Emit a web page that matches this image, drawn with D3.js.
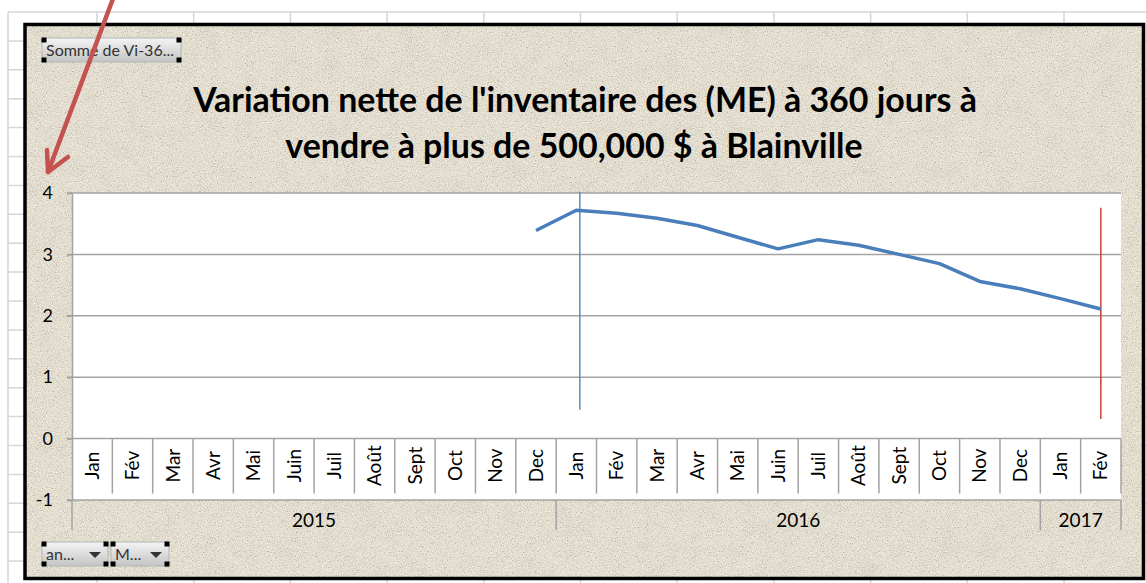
<!DOCTYPE html>
<html>
<head>
<meta charset="utf-8">
<script src="https://cdn.jsdelivr.net/npm/d3@7"></script>
<style>
  html, body { margin: 0; padding: 0; background: #fff; }
  svg { display: block; }
</style>
</head>
<body>
<div id="chart"></div>
<script>
// Data
const monthNames = ['Jan', 'Fév', 'Mar', 'Avr', 'Mai', 'Juin', 'Juil', 'Août', 'Sept', 'Oct', 'Nov', 'Dec'];
const years = ['2015', '2016', '2017'];
const monthsPerYear = [12, 12, 2];
const values = [
  null, null, null, null, null, null, null, null, null, null, null, 3.39,
  3.72, 3.67, 3.59, 3.47, 3.28, 3.09, 3.24, 3.15, 3.00, 2.85, 2.56, 2.44,
  2.28, 2.11
];
const yTicks = [-1, 0, 1, 2, 3, 4];
// vertical marker lines drawn on the chart (category, top value, bottom value)
const markerCats = ['2016-Jan', '2017-Fév'];
const markerTops = [4.02, 3.76];
const markerBottoms = [0.47, 0.32];
const titleLines = ["Variation nette de l'inventaire des (ME) à 360 jours à", 'vendre à plus de 500,000 $ à Blainville'];

const W = 1146, H = 583;
const plot = { left: 72, right: 1121, top: 193, bottom: 500 };
const font = 'Lato, "Open Sans", sans-serif';

// build categories
const categories = [];
years.forEach((yr, i) => {
  for (let m = 0; m < monthsPerYear[i]; m++) {
    categories.push({ key: yr + '-' + monthNames[m], year: yr, month: monthNames[m] });
  }
});
const points = categories.map((c, i) => ({ key: c.key, v: values[i] }));

const svg = d3.select('#chart').append('svg')
  .attr('width', W)
  .attr('height', H);

const defs = svg.append('defs');

// paper texture
const f = defs.append('filter').attr('id', 'paper')
  .attr('x', 0).attr('y', 0).attr('width', '100%').attr('height', '100%');
f.append('feTurbulence').attr('type', 'fractalNoise').attr('baseFrequency', 0.8)
  .attr('numOctaves', 2).attr('seed', 7).attr('result', 'n');
f.append('feColorMatrix').attr('in', 'n').attr('type', 'matrix')
  .attr('values', '0 0 0 0 0.45  0 0 0 0 0.42  0 0 0 0 0.36  -4 0 0 0 1.62')
  .attr('result', 'dark');
f.append('feColorMatrix').attr('in', 'n').attr('type', 'matrix')
  .attr('values', '0 0 0 0 0.97  0 0 0 0 0.96  0 0 0 0 0.92  2.4 0 0 0 -1.2')
  .attr('result', 'light');
f.append('feTurbulence').attr('type', 'fractalNoise').attr('baseFrequency', 0.05)
  .attr('numOctaves', 3).attr('seed', 2).attr('result', 'm');
f.append('feColorMatrix').attr('in', 'm').attr('type', 'matrix')
  .attr('values', '0 0 0 0 0.6  0 0 0 0 0.56  0 0 0 0 0.48  0.7 0 0 0 -0.3')
  .attr('result', 'mottle');
const fm = f.append('feMerge');
fm.append('feMergeNode').attr('in', 'mottle');
fm.append('feMergeNode').attr('in', 'light');
fm.append('feMergeNode').attr('in', 'dark');

const btnGrad = defs.append('linearGradient').attr('id', 'btn')
  .attr('x1', 0).attr('y1', 0).attr('x2', 0).attr('y2', 1);
btnGrad.append('stop').attr('offset', '0%').attr('stop-color', '#f4f4f4');
btnGrad.append('stop').attr('offset', '100%').attr('stop-color', '#c4c4c4');

// spreadsheet grid behind the chart
const sheet = svg.append('g');
for (let x = 8; x < W; x = (x === 8 ? 97 : x + 96.7)) {
  sheet.append('line').attr('x1', x).attr('x2', x).attr('y1', 12).attr('y2', H)
    .attr('stroke', '#d6d6d6').attr('stroke-width', 1.5);
}
for (let y = 12; y < H; y += 28.9) {
  sheet.append('line').attr('x1', 8).attr('x2', W).attr('y1', y).attr('y2', y)
    .attr('stroke', '#d6d6d6').attr('stroke-width', 1.5);
}

// chart area
svg.append('rect').attr('x', 25).attr('y', 24).attr('width', 1119).attr('height', 555)
  .attr('fill', '#e2dccd');
svg.append('rect').attr('x', 25).attr('y', 24).attr('width', 1119).attr('height', 555)
  .attr('filter', 'url(#paper)');

// scales
const x = d3.scaleBand()
  .domain(categories.map(c => c.key))
  .range([plot.left, plot.right])
  .paddingInner(0).paddingOuter(0);
const y = d3.scaleLinear().domain([-1, 4]).range([plot.bottom, plot.top]);
const cx = k => x(k) + x.bandwidth() / 2;

// plot area
svg.append('rect').attr('x', plot.left).attr('y', plot.top)
  .attr('width', plot.right - plot.left).attr('height', plot.bottom - plot.top)
  .attr('fill', '#fff');

// gridlines
svg.append('g').selectAll('line').data(yTicks).enter().append('line')
  .attr('x1', plot.left - 5).attr('x2', plot.right)
  .attr('y1', d => y(d)).attr('y2', d => y(d))
  .attr('stroke', '#a3a3a3').attr('stroke-width', 1.5);

// y axis
const yAxis = svg.append('g')
  .attr('transform', `translate(${plot.left},0)`)
  .call(d3.axisLeft(y).tickValues(yTicks).tickFormat(d => String(d))
    .tickSize(5).tickSizeOuter(0).tickPadding(14));
yAxis.select('.domain').attr('stroke', '#a3a3a3').attr('stroke-width', 1.5);
yAxis.selectAll('.tick line').attr('stroke', '#a3a3a3').attr('stroke-width', 1.5);
yAxis.selectAll('text')
  .style('font-family', font)
  .style('font-size', '18px')
  .attr('fill', '#000');
svg.append('line').attr('x1', plot.left).attr('x2', plot.left)
  .attr('y1', plot.bottom).attr('y2', 530)
  .attr('stroke', '#a3a3a3').attr('stroke-width', 1.5);

// month axis
const y0 = y(0);
const xAxis = svg.append('g')
  .attr('transform', `translate(0,${y0})`)
  .call(d3.axisBottom(x).tickSize(0).tickFormat(k => k.split('-')[1]));
xAxis.select('.domain').remove();
xAxis.selectAll('text')
  .attr('y', 0).attr('x', 0).attr('dy', '0.35em')
  .attr('transform', 'translate(0,27) rotate(-90)')
  .style('text-anchor', 'middle')
  .style('font-family', font)
  .style('font-size', '19px')
  .attr('fill', '#000');

// month separators
const seps = d3.range(1, categories.length + 1).map(i => plot.left + i * x.step());
svg.append('g').selectAll('line').data(seps).enter().append('line')
  .attr('x1', d => d).attr('x2', d => d)
  .attr('y1', y0).attr('y2', y0 + 55)
  .attr('stroke', '#a3a3a3').attr('stroke-width', 1.5);

// year row
let start = 0;
const yearSpans = years.map((yr, i) => {
  const s = { year: yr, first: categories[start].key, last: categories[start + monthsPerYear[i] - 1].key };
  start += monthsPerYear[i];
  return s;
});
const yearEdges = yearSpans.map(s => x(s.last) + x.bandwidth());
svg.append('g').selectAll('line').data(yearEdges).enter().append('line')
  .attr('x1', d => d).attr('x2', d => d)
  .attr('y1', plot.bottom).attr('y2', 530)
  .attr('stroke', '#a3a3a3').attr('stroke-width', 1.5);
svg.append('g').selectAll('text').data(yearSpans).enter().append('text')
  .attr('x', d => (x(d.first) + x(d.last) + x.bandwidth()) / 2)
  .attr('y', 527)
  .attr('text-anchor', 'middle')
  .style('font-family', font)
  .style('font-size', '19px')
  .attr('fill', '#000')
  .text(d => d.year);

// marker lines
const markerColors = ['#5b8bc6', '#c9403c'];
const markerShift = [3.5, 0];
markerCats.forEach((k, i) => {
  svg.append('line')
    .attr('x1', cx(k) + markerShift[i]).attr('x2', cx(k) + markerShift[i])
    .attr('y1', y(markerTops[i])).attr('y2', y(markerBottoms[i]))
    .attr('stroke', markerColors[i]).attr('stroke-width', 1.5);
});

// series line
const line = d3.line()
  .defined(d => d.v !== null)
  .x(d => cx(d.key))
  .y(d => y(d.v));
svg.append('path').datum(points)
  .attr('d', line)
  .attr('fill', 'none')
  .attr('stroke', '#4a7ebb')
  .attr('stroke-width', 3.5)
  .attr('stroke-linejoin', 'round');

// title
const title = svg.append('g')
  .style('font-family', font)
  .style('font-weight', 'bold')
  .attr('fill', '#000');
const t1 = title.append('text').attr('x', 585).attr('y', 112).attr('text-anchor', 'middle')
  .style('font-size', '30px').text(titleLines[0]);
const fs = 30 * 784 / t1.node().getComputedTextLength();
t1.style('font-size', fs + 'px');
title.append('text').attr('x', 574).attr('y', 158).attr('text-anchor', 'middle')
  .style('font-size', fs + 'px').text(titleLines[1]);

// chart border
svg.append('rect').attr('x', 25).attr('y', 24.5).attr('width', 1118.5).attr('height', 554)
  .attr('fill', 'none').attr('stroke', '#000').attr('stroke-width', 3.5);

// pivot field buttons
function button(bx, by, bw, label, arrow) {
  const g = svg.append('g');
  g.append('rect').attr('x', bx).attr('y', by).attr('width', bw).attr('height', 24)
    .attr('rx', 2).attr('fill', 'url(#btn)').attr('stroke', '#b5b5b5');
  g.append('text').attr('x', bx + 4).attr('y', by + 18)
    .style('font-family', font)
    .style('font-size', '16px').attr('fill', '#333').text(label);
  if (arrow) {
    const ax = bx + bw - 13, ay = by + 10;
    g.append('path').attr('d', `M${ax - 6},${ay} L${ax + 6},${ay} L${ax},${ay + 6} Z`).attr('fill', '#333');
  }
  [[bx + 2, by + 2], [bx + bw - 2, by + 2], [bx + 2, by + 22], [bx + bw - 2, by + 22]].forEach(p => {
    g.append('rect').attr('x', p[0] - 2.5).attr('y', p[1] - 2.5).attr('width', 5).attr('height', 5).attr('fill', '#000');
  });
}
button(42, 38, 139, 'Somme de Vi-36...', false);
button(42, 542, 66, 'an...', true);
button(111, 542, 58, 'M...', true);

// red arrow annotation
const arrow = svg.append('g')
  .attr('stroke', '#c4524e').attr('stroke-width', 4.5)
  .attr('stroke-linecap', 'round').attr('stroke-linejoin', 'round').attr('fill', 'none');
arrow.append('line').attr('x1', 114).attr('y1', -4).attr('x2', 48).attr('y2', 172);
arrow.append('path').attr('d', 'M47,150 L48,172 L68,157');
</script>
</body>
</html>
